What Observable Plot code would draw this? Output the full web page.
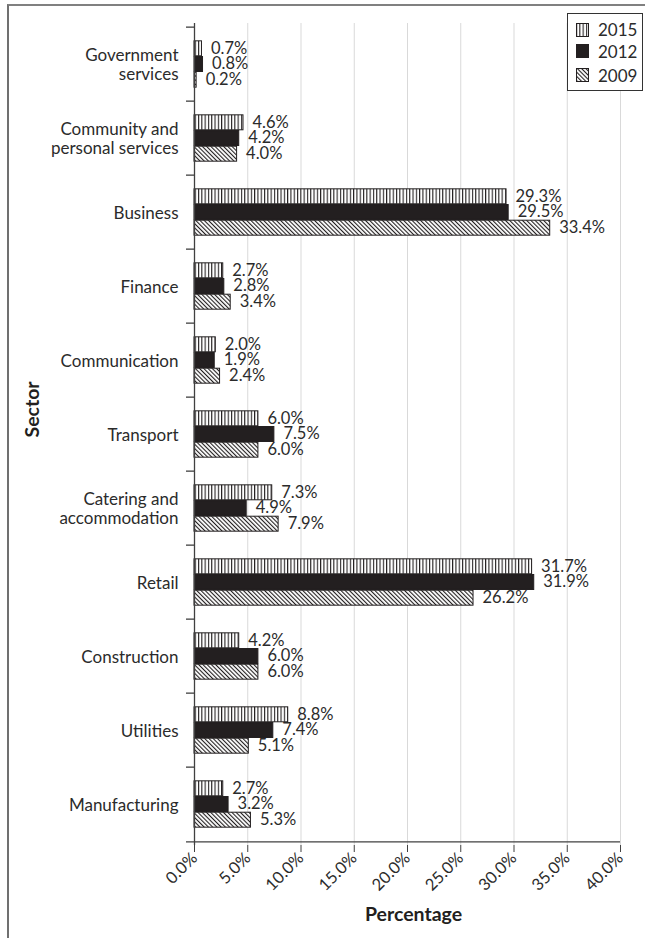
<!DOCTYPE html>
<html>
<head>
<meta charset="utf-8">
<script src="https://cdn.jsdelivr.net/npm/d3@7"></script>
<script src="https://cdn.jsdelivr.net/npm/@observablehq/plot@0.6"></script>
<style>
  html, body { margin: 0; padding: 0; background: #fff; overflow: hidden; }
  #wrap { position: relative; width: 645px; height: 938px; font-family: Lato, "DejaVu Sans", sans-serif; color: #2b2b2b; }
  #frame { position: absolute; left: 7px; top: 4px; width: 700px; height: 1000px; border-top: 2px solid #808080; border-left: 2px solid #707070; pointer-events: none; }
  #legend { position: absolute; left: 567px; top: 13px; width: 76px; height: 78px; border: 1px solid #333; background: #fff; box-sizing: border-box; }
  .lg { position: absolute; left: 8px; height: 14px; display: flex; align-items: center; font-size: 17px; }
  .lg svg { margin-right: 9px; }
</style>
</head>
<body>
<div id="wrap">
  <div id="chart"></div>
  <div id="frame"></div>
  <div id="legend"></div>
</div>
<script>
const sectors = ["Government services", "Community and personal services", "Business", "Finance", "Communication", "Transport", "Catering and accommodation", "Retail", "Construction", "Utilities", "Manufacturing"];
const sectorLabels = ["Government\nservices", "Community and\npersonal services", "Business", "Finance", "Communication", "Transport", "Catering and\naccommodation", "Retail", "Construction", "Utilities", "Manufacturing"];
const years = ["2015", "2012", "2009"];
const v2015 = [0.7, 4.6, 29.3, 2.7, 2.0, 6.0, 7.3, 31.7, 4.2, 8.8, 2.7];
const v2012 = [0.8, 4.2, 29.5, 2.8, 1.9, 7.5, 4.9, 31.9, 6.0, 7.4, 3.2];
const v2009 = [0.2, 4.0, 33.4, 3.4, 2.4, 6.0, 7.9, 26.2, 6.0, 5.1, 5.3];
const xTicks = [0, 5, 10, 15, 20, 25, 30, 35, 40];

const seriesValues = [v2015, v2012, v2009];
const data = [];
years.forEach((yr, k) => sectors.forEach((s, i) => data.push({sector: s, year: yr, value: seriesValues[k][i]})));

const fills = ["url(#vstripes)", "#231f20", "url(#dhatch)"];

const W = 645, H = 938;
const mL = 194, mR = 25, mT = 23, mB = 93;
const bw = (H - mT - mB) / sectors.length;
const group = bw * 0.63;
const off = (bw - group) / 2;
const bh = group / 3;
const pxPerUnit = (W - mL - mR) / 40;

const defsMark = () => {
  const defs = document.createElementNS("http://www.w3.org/2000/svg", "defs");
  defs.innerHTML = `
    <pattern id="vstripes" patternUnits="userSpaceOnUse" width="3.3" height="10">
      <rect width="3.3" height="10" fill="#fff"/>
      <rect x="0" width="1.1" height="10" fill="#231f20"/>
    </pattern>
    <pattern id="dhatch" patternUnits="userSpaceOnUse" width="3" height="10" patternTransform="rotate(-45)">
      <rect width="3" height="10" fill="#fff"/>
      <rect x="0" width="1.1" height="10" fill="#231f20"/>
    </pattern>`;
  return defs;
};

const marks = [
  defsMark,
  Plot.gridX(xTicks.slice(1), {stroke: "#d9d9d9", strokeOpacity: 1, strokeWidth: 1})
];
years.forEach((yr, k) => {
  const sub = data.filter(d => d.year === yr);
  marks.push(Plot.barX(sub, {
    x: "value", y: "sector", fill: fills[k], stroke: "#231f20", strokeWidth: 1,
    insetTop: off + k * bh, insetBottom: bw - off - (k + 1) * bh
  }));
  marks.push(Plot.text(sub, {
    x: "value", y: "sector", text: d => d.value.toFixed(1) + "%",
    textAnchor: "start", dx: 9, dy: (k - 1) * bh - 0.5, fontSize: 16.5, fill: "#2b2b2b"
  }));
});
marks.push(
  Plot.ruleX([0], {stroke: "#404040", strokeWidth: 1.3}),
  Plot.ruleY([sectors[sectors.length - 1]], {y: d => d, x1: -8 / pxPerUnit, x2: 40, dy: bw / 2, stroke: "#404040", strokeWidth: 1.3}),
  Plot.ruleY(sectors, {y: d => d, x1: -8 / pxPerUnit, x2: 0, dy: -bw / 2, stroke: "#404040", strokeWidth: 1.3}),
  Plot.axisY({tickSize: 0, tickPadding: 16, tickFormat: d => sectorLabels[sectors.indexOf(d)], fontSize: 17, lineHeight: 1.12, fill: "#2b2b2b", label: null}),
  Plot.axisX({ticks: xTicks, tickFormat: d => d.toFixed(1) + "%", tickRotate: -45, tickSize: 7, tickPadding: 3, fontSize: 16.5, fill: "#2b2b2b", stroke: "#404040", label: null}),
  Plot.text(["Percentage"], {frameAnchor: "bottom", dy: 75, dx: 6, fontSize: 19.5, fontWeight: "bold", fill: "#231f20"}),
  Plot.text(["Sector"], {frameAnchor: "left", dx: -162, dy: 3, rotate: -90, fontSize: 19.5, fontWeight: "bold", fill: "#231f20"})
);

const chart = Plot.plot({
  width: W, height: H,
  marginLeft: mL, marginRight: mR, marginTop: mT, marginBottom: mB,
  style: {fontFamily: "Lato, 'DejaVu Sans', sans-serif", background: "#fff", overflow: "visible"},
  x: {domain: [0, 40]},
  y: {domain: sectors, padding: 0},
  marks
});
document.getElementById("chart").appendChild(chart);

const legend = document.getElementById("legend");
const tops = [8.5, 30, 54];
years.forEach((yr, k) => {
  const row = document.createElement("div");
  row.className = "lg";
  row.style.top = tops[k] + "px";
  row.innerHTML = `<svg width="13" height="14"><rect x="0.5" y="0.5" width="12" height="13" fill="${fills[k]}" stroke="#231f20" stroke-width="1"/></svg><span>${yr}</span>`;
  legend.appendChild(row);
});
</script>
</body>
</html>
